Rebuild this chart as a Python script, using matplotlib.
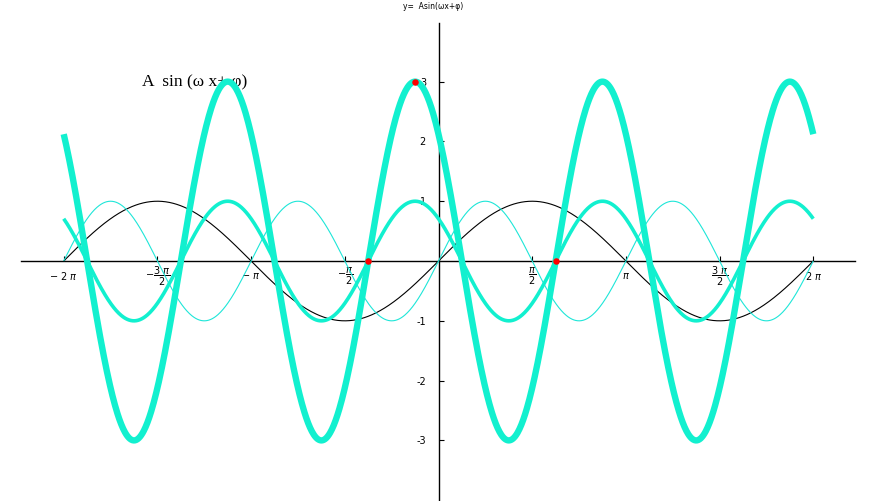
import numpy as np
import matplotlib
matplotlib.use("Agg")
from matplotlib import pyplot as plt

# curves y = A sin(w x + phi), drawn on [-2pi, 2pi]
amplitudes = [1, 1, 1, 3]
omegas = [1, 2, 2, 2]
phases = [0, 0, 3 * np.pi / 4, 3 * np.pi / 4]
colores = ['black', '#1ee6d8', '#12f0cf', '#12f0cf']
grosores = [0.8, 0.8, 2.6, 4.6]

# puntos marcados (un periodo de la curva gruesa)
puntos_x = [-3 * np.pi / 8, -np.pi / 8, 5 * np.pi / 8]
puntos_y = [0, 3, 0]

xticks = [-2 * np.pi, -3 * np.pi / 2, -np.pi, -np.pi / 2,
          np.pi / 2, np.pi, 3 * np.pi / 2, 2 * np.pi]
xticklabels = [r'$-\ 2\ \pi$', r'$-\dfrac{3\ \pi}{2}$', r'$-\ \pi$', r'$-\dfrac{\pi}{2}$',
               r'$\dfrac{\pi}{2}$', r'$\pi$', r'$\dfrac{3\ \pi}{2}$', r'$2\ \pi$']
yticks = [-3, -2, -1, 1, 2, 3]
yticklabels = ['-3', '-2', '-1', '1', '2', '3']

fig = plt.figure(figsize=(8.77, 5.01), dpi=100)
ax = fig.add_axes([0, 0, 1, 1])

x = np.linspace(-2 * np.pi, 2 * np.pi, 1200)
for A, w, p, c, lw in zip(amplitudes, omegas, phases, colores, grosores):
    ax.plot(x, A * np.sin(w * x + p), color=c, lw=lw, zorder=3,
            solid_capstyle='butt')

ax.scatter(puntos_x, puntos_y, s=22, color='red', zorder=5, linewidths=0)

ax.set_xlim(-2.340 * np.pi, 2.340 * np.pi)
ax.set_ylim(-4.013, 4.365)

# ejes cruzando en el origen
for lado in ['top', 'right']:
    ax.spines[lado].set_visible(False)
ax.spines['left'].set_position(('data', 0))
ax.spines['bottom'].set_position(('data', 0))
ax.spines['left'].set_bounds(-4.1, 3.98)
ax.spines['bottom'].set_bounds(-2.227 * np.pi, 2.223 * np.pi)
ax.spines['left'].set_linewidth(1.0)
ax.spines['bottom'].set_linewidth(1.0)
ax.spines['left'].set_zorder(2)
ax.spines['bottom'].set_zorder(2)

ax.set_xticks(xticks)
ax.set_xticklabels(xticklabels, fontsize=7)
ax.set_yticks(yticks)
ax.set_yticklabels(yticklabels, fontsize=7)
ax.tick_params(axis='both', direction='in', length=3.5, width=0.8)
ax.tick_params(axis='x', pad=11)
ax.tick_params(axis='y', pad=9)
for lbl in ax.get_xticklabels():
    lbl.set_va('center')

fig.text(0.494, 0.988, 'y=  Asin(ωx+φ)', ha='center', va='center', fontsize=5.5)
ax.text(-1.3 * np.pi, 3.0, 'A  sin (ω x+ φ)', ha='center', va='center',
        fontsize=12.5, family='Liberation Serif', zorder=1)

fig.savefig('out.png', dpi=100)
